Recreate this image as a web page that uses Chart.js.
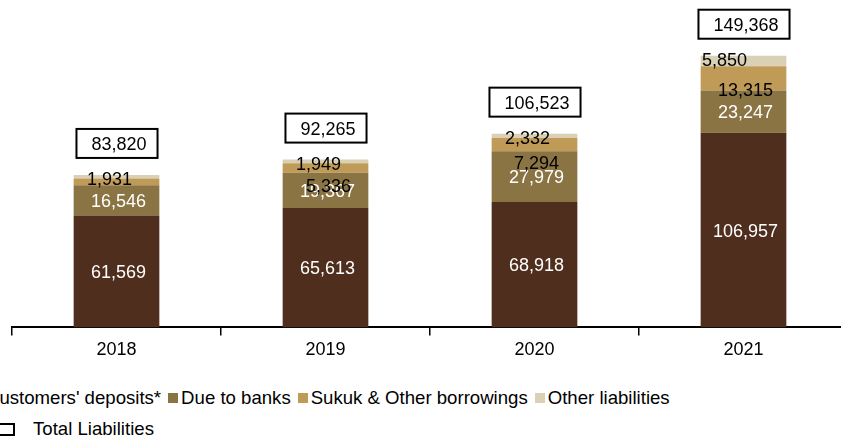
<!DOCTYPE html>
<html lang="en">
<head>
    <meta charset="UTF-8">
    <title>Total Liabilities 2018-2021</title>
    <script src="https://cdn.jsdelivr.net/npm/chart.js"></script>
    <style>
        body { margin: 0; background: #fff; overflow: hidden; width: 841px; height: 438px; position: relative; }
        #caixa { position: absolute; left: 0; top: 0; width: 860px; height: 365px; }
        .legenda { position: absolute; white-space: nowrap; font-family: "Liberation Sans", Arial, sans-serif; font-size: 18.6px; color: #000; display: flex; align-items: center; }
        .legenda .cor { display: inline-block; width: 10px; height: 10px; margin-right: 3px; }
        .legenda .item { display: flex; align-items: center; margin-right: 7px; }
        #legenda1 { left: -27px; top: 387px; }
        #legenda2 { left: -2px; top: 418px; }
        #legenda2 .quadro { display: inline-block; width: 13px; height: 9px; border: 2px solid #000; margin-right: 18px; }
    </style>
</head>
<body>
    <div id="caixa">
        <canvas id="grafico1"></canvas>
    </div>
    <div class="legenda" id="legenda1"></div>
    <div class="legenda" id="legenda2"><span class="quadro"></span>Total Liabilities</div>
    <script>
        const anos = ['2018', '2019', '2020', '2021'];
        const depositos = [61569, 65613, 68918, 106957];
        const bancos = [16546, 19367, 27979, 23247];
        const sukuk = [3774, 5336, 7294, 13315];
        const outros = [1931, 1949, 2332, 5850];
        const totais = [83820, 92265, 106523, 149368];

        const fonte = '"Liberation Sans", Arial, sans-serif';

        // deslocamento dos rótulos (dx, dy) por série; null = sem rótulo
        const ajusteRotulo = {
            2: [null, [3, 18], [2, 18.5], [2, 11]],
            3: [[-7, 2], [-7, 2.5], [-7, 2], [-19, -1.5]]
        };

        const rotulos = {
            id: 'rotulos',
            afterDatasetsDraw(chart) {
                const c = chart.ctx;
                c.save();
                c.font = '18px ' + fonte;
                c.textAlign = 'center';
                c.textBaseline = 'alphabetic';
                chart.data.datasets.forEach((ds, d) => {
                    const meta = chart.getDatasetMeta(d);
                    meta.data.forEach((bar, i) => {
                        let aj = [2, 0];
                        if (ajusteRotulo[d]) aj = ajusteRotulo[d][i];
                        if (!aj) return;
                        const meio = (bar.y + bar.base) / 2;
                        c.fillStyle = ds.corTexto;
                        c.fillText(ds.data[i].toLocaleString('en-US'), bar.x + aj[0], meio + aj[1] + 18 * 0.358);
                    });
                });
                c.restore();
            }
        };

        // caixas com o total em cima de cada barra
        const caixasTotal = {
            id: 'caixasTotal',
            afterDatasetsDraw(chart) {
                const c = chart.ctx;
                const x = chart.scales.x;
                const y = chart.scales.y;
                c.save();
                c.font = '18px ' + fonte;
                c.textAlign = 'center';
                c.textBaseline = 'alphabetic';
                totais.forEach((t, i) => {
                    const txt = t.toLocaleString('en-US');
                    const larg = c.measureText(txt).width + 26;
                    const alt = 29;
                    const cx = x.getPixelForValue(i) + 0.5;
                    const base = y.getPixelForValue(t) - 17;
                    c.fillStyle = '#fff';
                    c.fillRect(cx - larg / 2, base - alt, larg, alt);
                    c.lineWidth = 2;
                    c.strokeStyle = '#000';
                    c.strokeRect(cx - larg / 2, base - alt, larg, alt);
                    c.fillStyle = '#000';
                    c.fillText(txt, cx + 2, base - alt / 2 + 18 * 0.358);
                });
                c.restore();
            }
        };

        const ctx = document.getElementById('grafico1');

        const grafico1 = new Chart(ctx, {
            type: 'bar',
            data: {
                labels: anos,
                datasets: [
                    { label: "Customers' deposits*", data: depositos, backgroundColor: '#4F2E1D', corTexto: '#fff' },
                    { label: 'Due to banks', data: bancos, backgroundColor: '#8B7443', corTexto: '#fff' },
                    { label: 'Sukuk & Other borrowings', data: sukuk, backgroundColor: '#C09A57', corTexto: '#000' },
                    { label: 'Other liabilities', data: outros, backgroundColor: '#DAD0B5', corTexto: '#000' }
                ]
            },
            options: {
                responsive: true,
                maintainAspectRatio: false,
                animation: false,
                barPercentage: 0.41,
                categoryPercentage: 1,
                layout: { padding: { left: 12, right: 12, top: 0, bottom: 0 } },
                plugins: {
                    legend: { display: false },
                    tooltip: { enabled: false }
                },
                scales: {
                    x: {
                        stacked: true,
                        border: { color: '#000', width: 2 },
                        grid: { display: true, drawOnChartArea: false, drawTicks: true, tickLength: 8, color: '#000', lineWidth: 1.5, offset: true },
                        ticks: { color: '#000', padding: 4, font: { family: fonte, size: 18 } }
                    },
                    y: {
                        stacked: true,
                        display: false,
                        min: 0,
                        max: 180000
                    }
                }
            },
            plugins: [rotulos, caixasTotal]
        });

        // legenda montada a partir das séries
        const leg = document.getElementById('legenda1');
        grafico1.data.datasets.forEach(ds => {
            const item = document.createElement('span');
            item.className = 'item';
            item.innerHTML = '<span class="cor" style="background:' + ds.backgroundColor + '"></span>' + ds.label;
            leg.appendChild(item);
        });
    </script>
</body>
</html>
